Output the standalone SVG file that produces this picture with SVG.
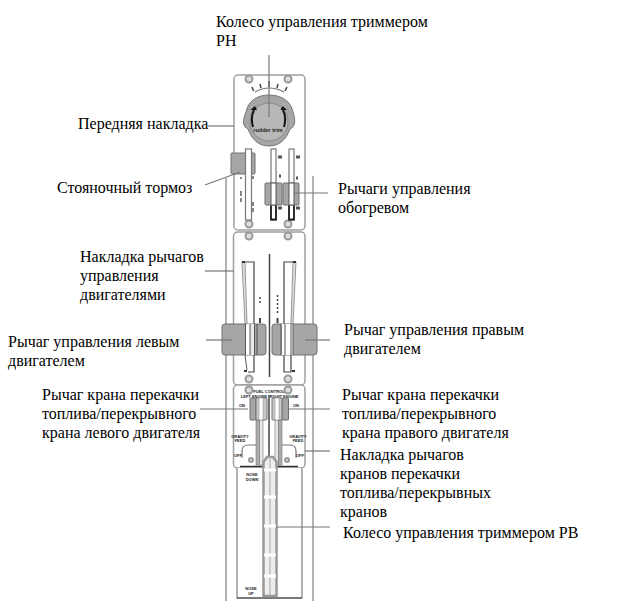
<svg xmlns="http://www.w3.org/2000/svg" width="633" height="601" viewBox="0 0 633 601">
<style>
text{font-family:"Liberation Serif","Times New Roman",serif;font-size:16px;fill:#000}
.o{fill:#fff;stroke:#a0a0a0;stroke-width:1.5}
.l{fill:none;stroke:#777;stroke-width:1.2}
.g{fill:#a6a6a6;stroke:#707070;stroke-width:1}
.s{fill:#fff;stroke:#777;stroke-width:1.2}
.d{fill:none;stroke:#444;stroke-width:1.5}
.c{fill:#ddd;stroke:#999;stroke-width:2}
text.t{font-family:"Liberation Sans",sans-serif;font-size:4px;font-weight:bold;fill:#222;text-anchor:middle}
</style>
<rect width="633" height="601" fill="#fff"/>
<g id="frame">
<path d="M226 178V601M313 176V601" fill="none" stroke="#999" stroke-width="1.500"/>
</g>
<g id="front-panel">
<rect class="o" x="234" y="75" width="71" height="155" rx="4"/>
<circle class="c" cx="249" cy="79" r="3.500"/><circle class="c" cx="288" cy="79" r="3.500"/>
<circle class="c" cx="249" cy="224" r="3.500"/><circle class="c" cx="288" cy="224" r="3.500"/>
<path class="l" d="M255 92Q269 84 284 92"/>
<path class="d" d="M252 87l1.500 4M260 84l1 4M269 81v6M278 84l-1 4M287 87l-2 4"/>
<path d="M246 112C248 101 257 95 269 95C281 95 291 101 293 112C296 121 295 127 290 129C286 140 279 146 269 146C259 146 252 140 248 129C243 127 242 121 246 112Z" fill="#a6a6a6" stroke="#777"/>
<circle cx="269" cy="122" r="19" fill="#b8b8b8" stroke="#888"/>
<path d="M253 127C251 120 252 114 254 110M284 127C286 120 285 114 283 110" fill="none" stroke="#111" stroke-width="2"/>
<path d="M250.500 110l6.500 0l-2 -4zM287 110l-6.500 0l2 -4z" fill="#111"/>
<text class="t" x="268" y="132" style="font-size:5.500px">rudder trim</text>
</g>
<g id="parking-brake">
<rect class="g" x="231" y="153" width="24" height="21" rx="1"/>
<rect class="s" x="245.500" y="149" width="6" height="71" fill="#eee"/>
<path stroke="#555" fill="none" stroke-width="1.400" d="M241 177v2M253 176v3M241 191v5M241 198v4M253 202v4M253 208v4"/>
</g>
<g id="heat-levers">
<rect class="s" x="271" y="149" width="5" height="71"/>
<rect class="s" x="289" y="149" width="5" height="71"/>
<path d="M271 205V219.500H276V205M289 205V219.500H294V205" fill="none" stroke="#222" stroke-width="1.800"/>
<rect class="g" x="265" y="183" width="17" height="22" rx="1"/>
<rect class="g" x="283" y="183" width="16" height="22" rx="1"/>
<rect x="271" y="183" width="5" height="22" fill="#fff" stroke="#555" stroke-width="1"/>
<rect x="289" y="183" width="5" height="22" fill="#fff" stroke="#555" stroke-width="1"/>
<path stroke="#555" stroke-width="3" d="M278 157h4M296 157h4M279 176h2M296 178h2M278 208h4M296 208h4"/>
</g>
<g id="engine-panel">
<rect class="o" x="233.500" y="232" width="71.500" height="153" rx="4"/>
<circle class="c" cx="249" cy="236" r="3.500"/><circle class="c" cx="288" cy="236" r="3.500"/>
<circle class="c" cx="249" cy="379" r="3.500"/><circle class="c" cx="288" cy="379" r="3.500"/>
<path d="M269.500 254V377" stroke="#444" stroke-width="1.500"/>
<path d="M245 262H254V372H248M293 262H284V372H291V355" fill="none" stroke="#444" stroke-width="1.200"/>
<path d="M242 262L245 324H247L245 262M296 262L293 324H291L293 262" fill="#ddd" stroke="#999"/>
<path d="M245 355L247 370" stroke="#555"/>
<path stroke="#444" stroke-width="1.500" stroke-dasharray="2 2" d="M260 297V305M277.500 295V313"/>
<path stroke="#444" stroke-width="2" d="M260 318v5M277.500 318v5"/>
<path stroke="#333" stroke-width="2" d="M242 262h3M293 262h3M244 371h3M292 371h3"/>
</g>
<g id="left-engine-lever">
<rect class="g" x="222" y="324" width="44" height="31" rx="3"/>
<rect x="245.500" y="324" width="4.500" height="31" fill="#fff"/>
<rect x="250" y="324" width="4" height="31" fill="#e8e8e8"/>
<path stroke="#555" fill="none" d="M245.500 324V355M250 324V355M254.500 324V355M257 324V355"/>
</g>
<g id="right-engine-lever">
<rect class="g" x="272" y="324" width="45" height="31" rx="3"/>
<rect x="282" y="324" width="11" height="31" fill="#fff"/>
<path stroke="#555" fill="none" d="M281 324V355M285 324V355M291 324V355M293 324V355"/>
</g>
<g id="fuel-panel">
<rect class="o" x="233.500" y="385" width="71.500" height="83" rx="4"/>
<circle class="c" cx="249" cy="390" r="3.500"/><circle class="c" cx="288" cy="390" r="3.500"/>
<text class="t" x="269" y="393">FUEL CONTROL</text>
<text class="t" x="254" y="398">LEFT ENGINE</text>
<text class="t" x="284" y="398">RIGHT ENGINE</text>
<path d="M269 395V465" stroke="#444" stroke-width="1.500"/>
<rect x="256" y="400" width="3.500" height="65" fill="#aaa" stroke="#777" stroke-width=".6"/>
<rect x="259.500" y="400" width="3.500" height="65" fill="#e6e6e6" stroke="#777" stroke-width=".6"/>
<rect x="275" y="400" width="3.500" height="65" fill="#e6e6e6" stroke="#777" stroke-width=".6"/>
<rect x="278.500" y="400" width="3.500" height="65" fill="#aaa" stroke="#777" stroke-width=".6"/>
<rect class="g" x="250" y="398" width="6" height="22" rx="1"/><rect x="256" y="398" width="11" height="22" rx="1" fill="#c8c8c8" stroke="#777"/>
<rect x="259" y="398" width="4" height="22" fill="#fff" stroke="#999" stroke-width=".6"/>
<rect class="g" x="282" y="398" width="6.500" height="22" rx="1"/><rect x="272" y="398" width="10" height="22" rx="1" fill="#c8c8c8" stroke="#777"/>
<rect x="275" y="398" width="4" height="22" fill="#fff" stroke="#999" stroke-width=".6"/>
<path class="l" d="M242 458V451Q242 445 248 445H256M296 458V451Q296 445 290 445H282"/>
<circle class="c" cx="251" cy="460" r="2"/><circle class="c" cx="287" cy="460" r="2"/>
<path d="M240 466.500H263M275 466.500H298" stroke="#333" stroke-width="1.300"/>
<text class="t" x="240" y="438">GRAVITY</text><text class="t" x="240" y="442">FEED</text>
<text class="t" x="298" y="438">GRAVITY</text><text class="t" x="298" y="442">FEED</text>
<text class="t" x="238" y="457">OFF</text><text class="t" x="300" y="457">OFF</text>
<text class="t" x="242" y="407">ON</text><text class="t" x="296" y="407">ON</text>
</g>
<g id="trim-wheel">
<path d="M237 468V598H302V468" fill="#fff" stroke="#999" stroke-width="1.500"/>
<path d="M237 598H302" stroke="#666" stroke-width="1.500"/>
<path d="M263.500 596V462L267 457H273L276.500 462V596Z" fill="#eee" stroke="#999" stroke-width="2.500"/>
<path d="M270 459V595" stroke="#bbb" stroke-width="1.500"/>
<path d="M264 497h12M264 526h12M264 555h12M264 576h12M264 470h12" stroke="#fff" stroke-width="3"/>
<text class="t" x="252" y="476">NOSE</text><text class="t" x="252" y="481">DOWN</text>
<text class="t" x="251" y="590">NOSE</text><text class="t" x="251" y="595">UP</text>
</g>
<g id="connectors" fill="none" stroke="#777" stroke-width="1.200">
<path d="M269 55V117"/>
<path d="M208 126H234"/>
<path d="M205 185L240 172"/>
<path d="M295 193H328"/>
<path d="M205 271H234"/>
<path d="M206 340H232"/>
<path d="M305 340H330"/>
<path d="M200 409H248"/>
<path d="M289 409H330"/>
<path d="M305 451H330"/>
<path d="M276 527H330"/>
</g>
<g id="labels">
<text x="216" y="27">Колесо управления триммером</text>
<text x="216" y="46">РН</text>
<text x="78" y="129">Передняя накладка</text>
<text x="57" y="193">Стояночный тормоз</text>
<text x="338" y="194">Рычаги управления</text>
<text x="338" y="213">обогревом</text>
<text x="80" y="262">Накладка рычагов</text>
<text x="80" y="281">управления</text>
<text x="80" y="300">двигателями</text>
<text x="8" y="347">Рычаг управления левым</text>
<text x="8" y="366">двигателем</text>
<text x="344" y="335">Рычаг управления правым</text>
<text x="344" y="354">двигателем</text>
<text x="42" y="400">Рычаг крана перекачки</text>
<text x="42" y="419">топлива/перекрывного</text>
<text x="42" y="438">крана левого двигателя</text>
<text x="342" y="400">Рычаг крана перекачки</text>
<text x="342" y="419">топлива/перекрывного</text>
<text x="342" y="438">крана правого двигателя</text>
<text x="340" y="460">Накладка рычагов</text>
<text x="340" y="479">кранов перекачки</text>
<text x="340" y="498">топлива/перекрывных</text>
<text x="340" y="517">кранов</text>
<text x="343" y="538">Колесо управления триммером РВ</text>
</g>
</svg>
